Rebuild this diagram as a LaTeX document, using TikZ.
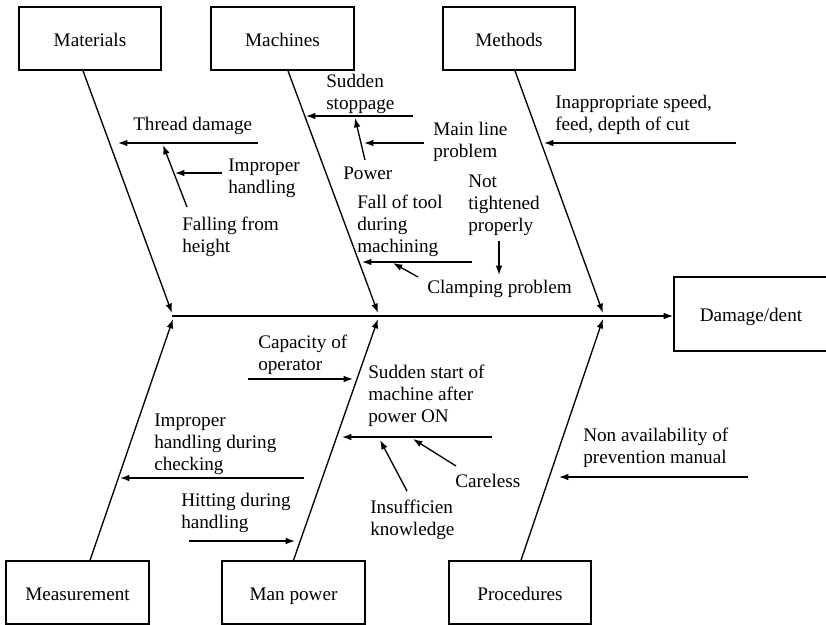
\documentclass[tikz,border=0pt]{standalone}
\usepackage{fontspec}
\setmainfont{Liberation Serif}
\usetikzlibrary{arrows.meta,calc,positioning}

\begin{document}
\begin{tikzpicture}[
    x=0.75pt,
    y=-0.75pt,
    >={Latex[length=7pt,width=5pt]},
    font=\fontsize{14.4}{16.5}\selectfont,
    box/.style={draw, line width=1.4pt, inner sep=0pt,
        text height=12pt, text depth=0.5pt,
        minimum width=107pt, minimum height=47pt},
    bone/.style={->, line width=1pt},
    twig/.style={->, line width=1pt},
    cause/.style={anchor=north west, align=left, inner sep=0pt}
]

\clip (0,0) rectangle (826,625);

% Kategorien
\node[box] (mat) at (90,38.5)
    {Materials};
\node[box] (mach) at (282.5,38.5)
    {Machines};
\node[box, minimum width=99pt] (meth) at (509,38.5)
    {Methods};
\node[box] (meas) at (77.5,592.5)
    {Measurement};
\node[box] (manp) at (293.5,592.5)
    {Man power};
\node[box] (proc) at (520,592.5)
    {Procedures};

% Effekt
\node[box, minimum width=115.5pt, minimum height=56pt] (dmg) at (751,314)
    {Damage/dent};

% Hauptgraete
\coordinate (tail) at (172,316);
\draw[bone]
    (tail) -- (tail -| dmg.west);

% Graeten
\coordinate (jmat) at (172,313);
\coordinate (jmach) at (378,313);
\coordinate (jmeth) at (603,313);
\coordinate (jmeas) at (173,319);
\coordinate (jmanp) at (378,319);
\coordinate (jproc) at (603,319);

\draw[bone] ([xshift=-5.25pt]mat.south) -- (jmat);
\draw[bone] ([xshift=4.1pt]mach.south) -- (jmach);
\draw[bone] ([xshift=4.5pt]meth.south) -- (jmeth);
\draw[bone] ([xshift=9.4pt]meas.north) -- (jmeas);
\draw[bone] (manp.north) -- (jmanp);
\draw[bone] ([xshift=0.75pt]proc.north) -- (jproc);

% Materials
\node[cause] (thread) at (133,117)
    {Thread damage};
\node[cause] (imph) at (228,159)
    {Improper\\handling};
\node[cause] (fall) at (182,217)
    {Falling from\\height};

\coordinate (thread-a) at (258,143);
\coordinate (thread-b) at (118,143);
\coordinate (fall-a) at (187,207);
\coordinate (fall-b) at (163,145);
\coordinate (imph-a) at (222,173);
\coordinate (imph-b) at (175,173);

\draw[twig] (thread-a) -- (thread-b);
\draw[twig] (fall-a) -- (fall-b);
\draw[twig] (imph-a) -- (imph-b);

% Machines
\node[cause] (sstop) at (326,74)
    {Sudden\\stoppage};
\node[cause] (power) at (343,167)
    {Power};
\node[cause] (mline) at (433,122)
    {Main line\\problem};
\node[cause] (ftool) at (357,195)
    {Fall of tool\\during\\machining};
\node[cause] (ntight) at (468,175)
    {Not\\tightened\\properly};
\node[cause] (clamp) at (427,280)
    {Clamping problem};

\coordinate (sstop-a) at (413,116);
\coordinate (sstop-b) at (306,116);
\coordinate (mline-a) at (424,143);
\coordinate (mline-b) at (364,143);
\coordinate (power-a) at (365,160);
\coordinate (power-b) at (355,118);
\coordinate (ftool-a) at (472,262);
\coordinate (ftool-b) at (362,262);
\coordinate (clamp-a) at (418,277);
\coordinate (clamp-b) at (393,263);
\coordinate (ntight-a) at (499,241);
\coordinate (ntight-b) at (499,275);

\draw[twig] (sstop-a) -- (sstop-b);
\draw[twig] (mline-a) -- (mline-b);
\draw[twig] (power-a) -- (power-b);
\draw[twig] (ftool-a) -- (ftool-b);
\draw[twig] (clamp-a) -- (clamp-b);
\draw[twig] (ntight-a) -- (ntight-b);

% Methods
\node[cause] (inapp) at (555,95)
    {Inappropriate speed,\\feed, depth of cut};

\coordinate (inapp-a) at (736,143);
\coordinate (inapp-b) at (544,143);

\draw[twig] (inapp-a) -- (inapp-b);

% Measurement
\node[cause] (impc) at (154,414)
    {Improper\\handling during\\checking};
\node[cause] (hit) at (181,493)
    {Hitting during\\handling};

\coordinate (impc-a) at (304,478);
\coordinate (impc-b) at (120,478);
\coordinate (hit-a) at (189,541);
\coordinate (hit-b) at (295,541);

\draw[twig] (impc-a) -- (impc-b);
\draw[twig] (hit-a) -- (hit-b);

% Man power
\node[cause] (capac) at (258,335)
    {Capacity of\\operator};
\node[cause] (sstart) at (368,365)
    {Sudden start of\\machine after\\power ON};
\node[cause] (care) at (455,474)
    {Careless};
\node[cause] (insuf) at (370,500)
    {Insufficien\\knowledge};

\coordinate (capac-a) at (248,379);
\coordinate (capac-b) at (353,379);
\coordinate (sstart-a) at (492,437);
\coordinate (sstart-b) at (342,437);
\coordinate (care-a) at (456,466);
\coordinate (care-b) at (413,439);
\coordinate (insuf-a) at (407,491);
\coordinate (insuf-b) at (380,440);

\draw[twig] (capac-a) -- (capac-b);
\draw[twig] (sstart-a) -- (sstart-b);
\draw[twig] (care-a) -- (care-b);
\draw[twig] (insuf-a) -- (insuf-b);

% Procedures
\node[cause] (nonav) at (583,428)
    {Non availability of\\prevention manual};

\coordinate (nonav-a) at (748,477);
\coordinate (nonav-b) at (559,477);

\draw[twig] (nonav-a) -- (nonav-b);

\end{tikzpicture}
\end{document}
